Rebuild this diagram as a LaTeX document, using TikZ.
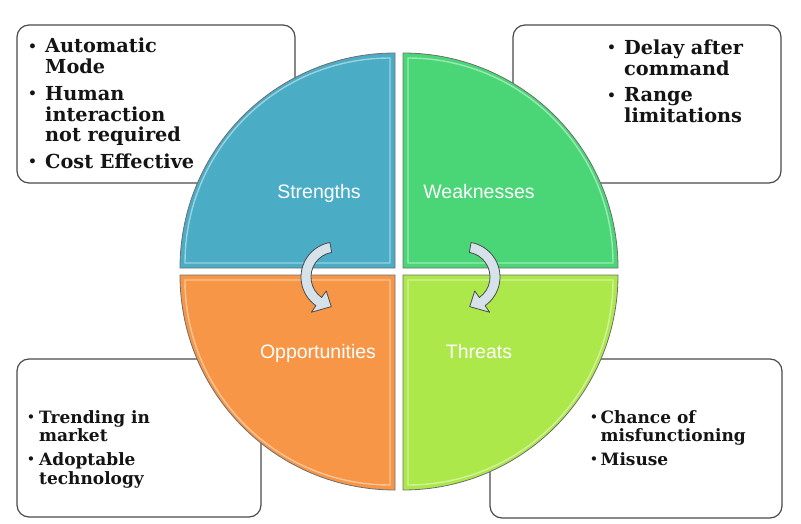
\documentclass[tikz,border=0pt]{standalone}
\usepackage{fontspec}
\usepackage{graphicx}
\usetikzlibrary{calc}
\newfontfamily\boxfont{DejaVu Serif}
\newfontfamily\quadfont{Liberation Sans}
\definecolor{sblue}{HTML}{4BACC6}
\definecolor{wgreen}{HTML}{4AD676}
\definecolor{oorange}{HTML}{F79646}
\definecolor{tlime}{HTML}{ADE84A}
\definecolor{arrowfill}{HTML}{D6E2EA}
\definecolor{edgegray}{HTML}{4A4A4A}
\newcommand{\smallbul}{\raisebox{0.09em}{\scalebox{0.72}{\textbullet}}}
\newcommand{\bitem}[2]{\par\hangindent=#1\relax\hangafter=1\relax\noindent\makebox[#1][l]{\smallbul}#2\par}
\tikzset{
  infobox/.style={draw=edgegray, line width=1.2pt, rounded corners=12pt, fill=white, inner sep=0pt},
  quad/.style={draw=edgegray!80, line width=0.8pt},
  bevel/.style={draw=white, line width=1.4pt, opacity=0.45},
  quadlabel/.style={text=white, font=\quadfont\fontsize{19.5}{22}\selectfont, anchor=base, inner sep=0pt},
  boxtext/.style={anchor=base west, inner sep=0pt, text=black!92},
  turnarrow/.style={fill=arrowfill, draw=edgegray, line width=0.8pt, line join=round}
}
\begin{document}
\begin{tikzpicture}[x=1pt,y=-1pt]
\useasboundingbox (0,0) rectangle (801,524);
% boxes
\node[infobox, minimum width=278pt, minimum height=158pt] (sbox) at (156,104) {};
\node[infobox, minimum width=268pt, minimum height=158pt] (wbox) at (647,104) {};
\node[infobox, minimum width=244pt, minimum height=158pt] (obox) at (139,438) {};
\node[infobox, minimum width=292pt, minimum height=159pt] (tbox) at (636,438.5) {};
% quadrants
\path[quad, fill=sblue] (395,268) -- (180,268) arc[start angle=180, end angle=270, radius=215] -- cycle;
\path[quad, fill=wgreen] (403,268) -- (403,53) arc[start angle=270, end angle=360, radius=215] -- cycle;
\path[quad, fill=tlime] (403,275) -- (618,275) arc[start angle=0, end angle=90, radius=215] -- cycle;
\path[quad, fill=oorange] (395,275) -- (395,490) arc[start angle=90, end angle=180, radius=215] -- cycle;
% bevel highlights
\path[bevel] (390,263) -- (185,263) arc[start angle=180, end angle=270, radius=205] -- cycle;
\path[bevel] (408,263) -- (408,58) arc[start angle=270, end angle=360, radius=205] -- cycle;
\path[bevel] (408,280) -- (613,280) arc[start angle=0, end angle=90, radius=205] -- cycle;
\path[bevel] (390,280) -- (390,485) arc[start angle=90, end angle=180, radius=205] -- cycle;
% turning arrows
\coordinate (cl) at (336,277);
\coordinate (cr) at (465,277);
\path[turnarrow] ($(cl)+(260:35)$) arc[start angle=260, end angle=125, radius=35]
  -- ($(cl)+(125:43)$) -- ($(cl)+(99:30)$) -- ($(cl)+(125:17)$) -- ($(cl)+(125:25)$)
  arc[start angle=125, end angle=260, radius=25] -- cycle;
\path[turnarrow] ($(cr)+(280:35)$) arc[start angle=280, end angle=415, radius=35]
  -- ($(cr)+(55:43)$) -- ($(cr)+(81:30)$) -- ($(cr)+(55:17)$) -- ($(cr)+(55:25)$)
  arc[start angle=415, end angle=280, radius=25] -- cycle;
% quadrant labels
\node[quadlabel] (s) at (319,198) {Strengths};
\node[quadlabel] (w) at (479,198) {Weaknesses};
\node[quadlabel] (o) at (318,358) {Opportunities};
\node[quadlabel] (t) at (479,358) {Threats};
% box texts
\node[boxtext] (stext) at (28,53) {\begin{minipage}[t]{260pt}\boxfont\bfseries\fontsize{19.3}{20.7}\selectfont\setlength{\parskip}{6pt}\setlength{\parindent}{0pt}
\bitem{17pt}{Automatic\\Mode}
\bitem{17pt}{Human\\interaction\\not required}
\bitem{17pt}{Cost Effective}
\end{minipage}};
\node[boxtext] (wtext) at (607,54.5) {\begin{minipage}[t]{180pt}\boxfont\bfseries\fontsize{19.3}{20.7}\selectfont\setlength{\parskip}{6pt}\setlength{\parindent}{0pt}
\bitem{17pt}{Delay after\\command}
\bitem{17pt}{Range\\limitations}
\end{minipage}};
\node[boxtext] (otext) at (27,423) {\begin{minipage}[t]{220pt}\boxfont\bfseries\fontsize{17}{18.5}\selectfont\setlength{\parskip}{5.5pt}\setlength{\parindent}{0pt}
\bitem{12pt}{Trending in\\market}
\bitem{12pt}{Adoptable\\technology}
\end{minipage}};
\node[boxtext] (ttext) at (590,423) {\begin{minipage}[t]{185pt}\boxfont\bfseries\fontsize{17}{18.5}\selectfont\setlength{\parskip}{5.5pt}\setlength{\parindent}{0pt}
\bitem{10.5pt}{Chance of\\misfunctioning}
\bitem{10.5pt}{Misuse}
\end{minipage}};
\end{tikzpicture}
\end{document}
